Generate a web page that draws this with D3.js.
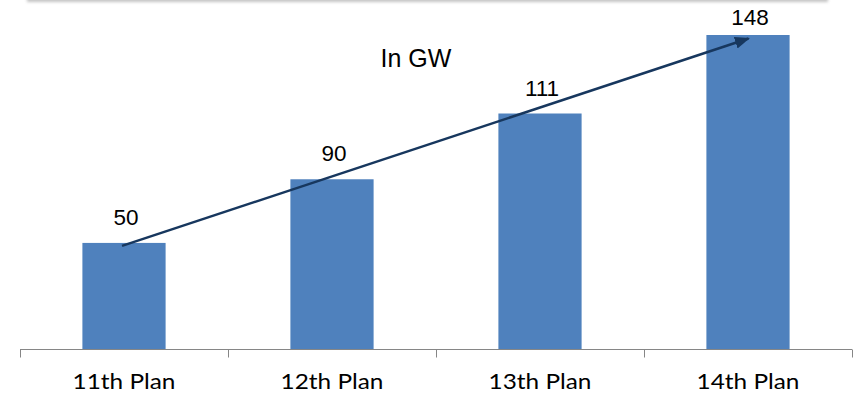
<!DOCTYPE html>
<html>
<head>
<meta charset="utf-8">
<script src="https://cdn.jsdelivr.net/npm/d3@7"></script>
<style>
  html, body { margin: 0; padding: 0; background: #fff; }
  svg { display: block; }
</style>
</head>
<body>
<svg id="chart" width="856" height="394"></svg>
<script>
// ---- data ----
const categories = ["11th Plan", "12th Plan", "13th Plan", "14th Plan"];
const barValues = [50, 80, 111, 148];          // bar heights as drawn in the picture
const valueLabels = ["50", "90", "111", "148"]; // labels as printed on the picture
const unitLabel = "In GW";

const W = 856, H = 394;
const svg = d3.select("#chart");

// top shadow of a box above the chart
const defs = svg.append("defs");
const blur = defs.append("filter").attr("id", "blur").attr("x", "-5%").attr("y", "-200%").attr("width", "110%").attr("height", "500%");
blur.append("feGaussianBlur").attr("stdDeviation", 1.6);
svg.append("rect").attr("x", 27).attr("y", -6).attr("width", 801).attr("height", 8)
  .attr("fill", "#c4c4c4").attr("filter", "url(#blur)");

const x = d3.scaleBand().domain(categories).range([20, 852]).paddingInner(0.6).paddingOuter(0.3);
const y = d3.scaleLinear().domain([0, 148]).range([349, 35]);

// bars
svg.append("g").selectAll("rect").data(barValues).join("rect")
  .attr("x", (d, i) => x(categories[i]))
  .attr("y", d => y(d))
  .attr("width", x.bandwidth())
  .attr("height", d => y(0) - y(d))
  .attr("fill", "#4f81bd");

// axis
const axisY = y(0) + 0.5;
const ax = svg.append("g").attr("stroke", "#868686").attr("stroke-width", 1);
const [r0, r1] = x.range();
ax.append("line").attr("x1", r0).attr("x2", r1).attr("y1", axisY).attr("y2", axisY);
const boundaries = d3.range(categories.length + 1).map(i => r0 + i * x.step());
ax.selectAll("line.tick").data(boundaries).join("line").attr("class", "tick")
  .attr("x1", d => Math.round(d) + 0.5).attr("x2", d => Math.round(d) + 0.5)
  .attr("y1", axisY).attr("y2", axisY + 8);

svg.append("g").selectAll("text").data(categories).join("text")
  .attr("transform", d => `translate(${x(d) + x.bandwidth() / 2},389) scale(1.16,1)`)
  .attr("text-anchor", "middle")
  .attr("font-family", "Lato, 'Open Sans', sans-serif")
  .attr("font-size", 21)
  .attr("fill", "#000")
  .text(d => d);

// value labels
svg.append("g").selectAll("text").data(valueLabels).join("text")
  .attr("x", (d, i) => x(categories[i]) + x.bandwidth() / 2 + 2)
  .attr("y", (d, i) => Math.max(y(barValues[i]) - 18, 25))
  .attr("text-anchor", "middle")
  .attr("font-family", "'Liberation Sans', Arial, sans-serif")
  .attr("font-size", 22.5)
  .attr("fill", "#000")
  .text(d => d);

// unit label
svg.append("text").attr("x", 416).attr("y", 67)
  .attr("text-anchor", "middle")
  .attr("font-family", "'Liberation Sans', Arial, sans-serif")
  .attr("font-size", 25)
  .attr("fill", "#000")
  .text(unitLabel);

// trend arrow
defs.append("marker").attr("id", "arrowhead")
  .attr("viewBox", "0 0 10 10").attr("refX", 9).attr("refY", 5)
  .attr("markerUnits", "userSpaceOnUse")
  .attr("markerWidth", 15).attr("markerHeight", 15)
  .attr("orient", "auto")
  .append("path").attr("d", "M0,1 L10,5 L0,9 Z").attr("fill", "#17375e");

const first = 0, last = barValues.length - 1;
const ax1 = x(categories[first]) + x.bandwidth() / 2 - 2;
const ay1 = y(barValues[first]) + 3;
const ax2 = x(categories[last]) + x.bandwidth() / 2 + 0.5;
const ay2 = y(barValues[last]) + 3.5;
svg.append("line")
  .attr("x1", ax1).attr("y1", ay1).attr("x2", ax2).attr("y2", ay2)
  .attr("stroke", "#17375e").attr("stroke-width", 2.5)
  .attr("marker-end", "url(#arrowhead)");
</script>
</body>
</html>
